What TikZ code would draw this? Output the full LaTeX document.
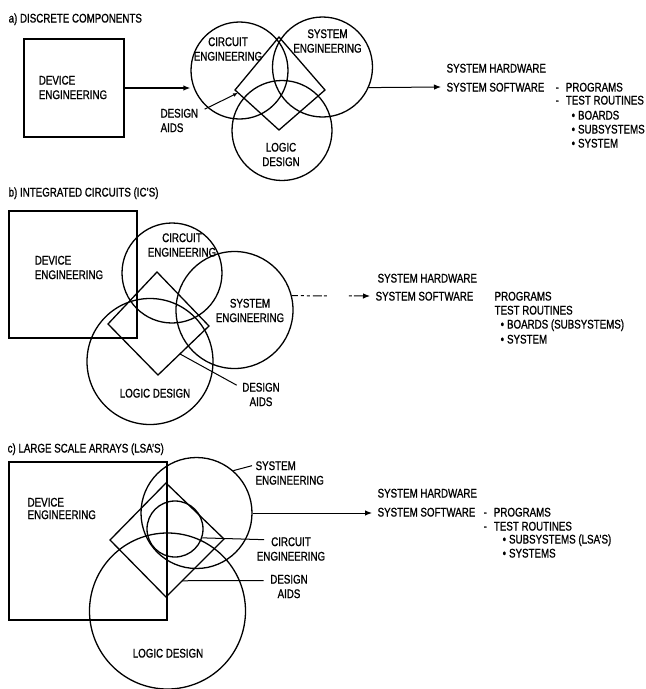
\documentclass[tikz,border=0pt]{standalone}
\usepackage{fontspec}
\setmainfont[FakeStretch=0.78,FakeBold=1]{Liberation Sans}
\usetikzlibrary{arrows.meta,calc}
\begin{document}
\begin{tikzpicture}[x=1pt,y=-1pt,line width=1.3pt,
  txt/.style={inner sep=0pt,font=\fontsize{12.5}{14}\selectfont,text height=9pt,text depth=0pt},
  mtxt/.style={inner sep=0pt,font=\fontsize{12.5}{14.5}\selectfont},
  ring/.style={draw,circle,inner sep=0pt,minimum size=#1},
  boxx/.style={draw,rectangle,inner sep=0pt},
  arr/.style={-{Latex[length=7pt,width=5.5pt]}},
  ptr/.style={line width=1pt}]
\useasboundingbox[fill=white] (0,0) rectangle (646,689);

% ---------------- a) ----------------
\node[txt,anchor=west] (ta) at (8,18) {a)\ DISCRETE COMPONENTS};
\node[boxx,minimum width=100pt,minimum height=98pt] (da) at (74,88) {};
\node[mtxt,align=left] (dat) at (73,87.5) {DEVICE\\ENGINEERING};
\node[ring=97pt] (ca) at (239.5,70.5) {};
\node[ring=100pt] (sa) at (322.5,67) {};
\node[ring=100pt] (la) at (282,130.5) {};
\coordinate (kla) at (235,90);
\coordinate (kta) at (279,37);
\coordinate (kra) at (325,90);
\coordinate (kba) at (279,130);
\draw (kla) -- (kta) -- (kra) -- (kba) -- cycle;
\node[mtxt,align=center] (caL) at (228,49) {CIRCUIT\\ENGINEERING};
\node[mtxt,align=center] (saL) at (327.5,41) {SYSTEM\\ENGINEERING};
\node[mtxt,align=center] (laL) at (281,154.5) {LOGIC\\DESIGN};
\node[mtxt,align=left,anchor=west] (daa) at (160,120.5) {DESIGN\\AIDS};
\draw[ptr,-{Latex[length=5pt,width=4pt]}] ($(daa.north east)+(6,1)$) -- ($(kla)!0.07!(kba)$);
\draw[arr] (da.east) -- (da.east -| ca.west);
\node[txt,anchor=west] (hwa) at (446,68) {SYSTEM HARDWARE};
\node[txt,anchor=west] (swa) at (446,87) {SYSTEM SOFTWARE};
\draw[arr,line width=1pt] (sa.-24) -- ([xshift=-5pt]swa.west);
\node[txt,anchor=west] (pra) at (555,87) {-\hspace{7pt}PROGRAMS};
\node[txt,anchor=west] (tra) at (555,100) {-\hspace{7pt}TEST ROUTINES};
\node[txt,anchor=west] (b1a) at (571,115) {•\hspace{3pt}BOARDS};
\node[txt,anchor=west] (b2a) at (571,129) {•\hspace{3pt}SUBSYSTEMS};
\node[txt,anchor=west] (b3a) at (571,143) {•\hspace{3pt}SYSTEM};

% ---------------- b) ----------------
\node[txt,anchor=west] (tb) at (8,192) {b)\ INTEGRATED CIRCUITS (IC'S)};
\node[boxx,minimum width=128pt,minimum height=127pt] (db) at (73,274.5) {};
\node[mtxt,align=left] (dbt) at (69,267.5) {DEVICE\\ENGINEERING};
\node[ring=100pt] (cb) at (172,273) {};
\node[ring=117pt] (sb) at (234.5,310) {};
\node[ring=126pt] (lb) at (150,361.5) {};
\coordinate (klb) at (108,324);
\coordinate (ktb) at (157,272);
\coordinate (krb) at (209,326);
\coordinate (kbb) at (158,375);
\draw (klb) -- (ktb) -- (krb) -- (kbb) -- cycle;
\node[mtxt,align=center] (cbL) at (182,245) {CIRCUIT\\ENGINEERING};
\node[mtxt,align=center] (sbL) at (250,310.5) {SYSTEM\\ENGINEERING};
\node[txt] (lbL) at (155,393) {LOGIC DESIGN};
\node[mtxt,align=center] (dbaL) at (261,394.5) {DESIGN\\AIDS};
\draw[ptr] ($(krb)!0.57!(kbb)$) -- ($(dbaL.north west)+(-5,3)$);
\node[txt,anchor=west] (hwb) at (377,278) {SYSTEM HARDWARE};
\node[txt,anchor=west] (swb) at (375,296) {SYSTEM SOFTWARE};
\draw[arr,line width=1pt,dash pattern={on 6pt off 3pt on 3pt off 3pt on 3pt off 3pt on 9pt off 2pt on 3pt off 22pt on 3pt off 2pt on 30pt}] (sb.14) -- ([xshift=-5pt]swb.west);
\node[txt,anchor=west] (prb) at (494,296) {PROGRAMS};
\node[txt,anchor=west] (trb) at (494,310) {TEST ROUTINES};
\node[txt,anchor=west] (b1b) at (500,324) {•\hspace{3pt}BOARDS (SUBSYSTEMS)};
\node[txt,anchor=west] (b2b) at (500,339) {•\hspace{3pt}SYSTEM};

% ---------------- c) ----------------
\node[txt,anchor=west] (tc) at (7,448) {c)\ LARGE SCALE ARRAYS (LSA'S)};
\node[boxx,minimum width=158pt,minimum height=158pt] (dc) at (88,541) {};
\node[mtxt,align=left,anchor=west,font=\fontsize{12.5}{12.5}\selectfont] (dct) at (27,508.5) {DEVICE\\ENGINEERING};
\node[ring=111pt] (sc) at (196.5,513) {};
\node[ring=56pt] (cc) at (175,529) {};
\node[ring=156pt] (lc) at (167.5,611) {};
\coordinate (klc) at (110,540);
\coordinate (ktc) at (166,483);
\coordinate (krc) at (224,539);
\coordinate (kbc) at (166,597);
\draw (klc) -- (ktc) -- (krc) -- (kbc) -- cycle;
\node[mtxt,align=left,anchor=west] (scL) at (255,473) {SYSTEM\\ENGINEERING};
\draw[ptr] (sc.49) -- ($(scL.north west)+(-3,5)$);
\node[mtxt,align=center] (ccL) at (291,549) {CIRCUIT\\ENGINEERING};
\draw[ptr] (cc.-18) -- ($(ccL.north west)+(8,3)$);
\node[mtxt,align=center] (dcaL) at (289,586.5) {DESIGN\\AIDS};
\draw[ptr] ($(krc)!0.72!(kbc)$) -- ($(dcaL.west)+(-6,-6)$);
\node[txt] (lcL) at (168,653) {LOGIC DESIGN};
\node[txt,anchor=west] (hwc) at (377,493) {SYSTEM HARDWARE};
\node[txt,anchor=west] (swc) at (377,512) {SYSTEM SOFTWARE};
\draw[arr,line width=1pt] (sc.east) -- ([xshift=-5pt]sc.east -| swc.west);
\node[txt,anchor=west] (prc) at (483,512) {-\hspace{7pt}PROGRAMS};
\node[txt,anchor=west] (trc) at (483,526) {-\hspace{7pt}TEST ROUTINES};
\node[txt,anchor=west] (b1c) at (502,539) {•\hspace{3pt}SUBSYSTEMS (LSA'S)};
\node[txt,anchor=west] (b2c) at (502,553) {•\hspace{3pt}SYSTEMS};
\end{tikzpicture}
\end{document}
